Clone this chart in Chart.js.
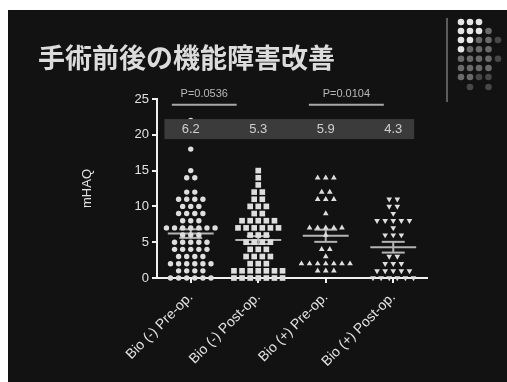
<!DOCTYPE html>
<html>
<head>
<meta charset="utf-8">
<script src="https://cdn.jsdelivr.net/npm/chart.js@4.4.1/dist/chart.umd.min.js"></script>
<style>
  html, body { margin: 0; padding: 0; background: #ffffff; }
  #c { display: block; }
</style>
</head>
<body>
<canvas id="c" width="507" height="382"></canvas>
<script>
// ---- data ----
const slideTitle = '手術前後の機能障害改善';
const categories = ['Bio (-) Pre-op.', 'Bio (-) Post-op.', 'Bio (+) Pre-op.', 'Bio (+) Post-op.'];

// individual mHAQ scores per group
const bioNegPre = [22, 18, 15, 14, 14, 12, 12, 11, 11, 11, 11, 10, 10, 10,
  9, 9, 9, 9, 8, 8, 8, 7, 7, 7, 7, 7, 7, 7, 6, 6, 6, 5, 5, 5, 5, 5,
  4, 4, 4, 4, 4, 3, 3, 3, 3, 2, 2, 2, 2, 2, 2, 1, 1, 1, 1, 0, 0, 0, 0, 0, 0];
const bioNegPost = [15, 14, 13, 12, 12, 11, 11, 10, 10, 10, 9, 9,
  8, 8, 8, 8, 8, 7, 7, 7, 7, 7, 7, 6, 6, 6, 5, 5, 5, 5, 4, 4, 4,
  3, 3, 3, 3, 2, 2, 2, 1, 1, 1, 1, 1, 1, 1, 0, 0, 0, 0, 0, 0, 0];
const bioPosPre = [14, 14, 14, 12, 12, 11, 11, 11, 9, 7, 7, 7, 7, 7, 6,
  4, 4, 3, 2, 2, 2, 2, 2, 2, 2, 1, 1, 1];
const bioPosPost = [11, 11, 10, 10, 9, 8, 8, 8, 8, 8, 7, 6, 6, 6,
  3, 3, 2, 2, 2, 1, 1, 1, 1, 1, 0, 0, 0, 0, 0, 0];

const groupMeans = [6.2, 5.3, 5.9, 4.3];
const groupSem = [0.6, 0.55, 0.85, 0.75];
const pValueLabels = ['P=0.0536', 'P=0.0104'];

// ---- layout constants ----
const SPREAD = 0.12;           // horizontal step between tied points (category units)
const POINT_COLOR = '#dedede';
const TEXT_COLOR = '#e2e2e2';
const FONT = '"Liberation Sans", Arial, sans-serif';

// spread tied values side by side around the category centre
function swarm(values, group) {
  const counts = {}, seen = {};
  values.forEach(v => { counts[v] = (counts[v] || 0) + 1; });
  return values.map(v => {
    seen[v] = (seen[v] === undefined ? 0 : seen[v] + 1);
    return { x: group + (seen[v] - (counts[v] - 1) / 2) * SPREAD, y: v };
  });
}

// slide background, title and corner ornament
const slidePlugin = {
  id: 'slide',
  beforeDraw(chart) {
    const ctx = chart.ctx;
    ctx.save();
    ctx.fillStyle = '#ffffff';
    ctx.fillRect(0, 0, chart.width, chart.height);
    ctx.fillStyle = '#121212';
    ctx.fillRect(8, 10, chart.width - 8, chart.height - 10);

    ctx.fillStyle = '#dcdcdc';
    ctx.font = 'bold 27px "Noto Sans CJK JP", sans-serif';
    ctx.textBaseline = 'middle';
    ctx.textAlign = 'left';
    ctx.fillText(slideTitle, 38, 58);

    // ornament: divider and dot grid
    ctx.strokeStyle = '#5c5c5c';
    ctx.lineWidth = 2;
    ctx.beginPath();
    ctx.moveTo(447, 18);
    ctx.lineTo(447, 102);
    ctx.stroke();
    const W = '#e6e6e6', G = '#6a6a6a', D = '#474747';
    const grid = [
      [W, W, W, null, null],
      [W, W, W, G, null],
      [W, W, G, G, D],
      [W, G, G, G, null],
      [G, G, G, G, D],
      [G, G, G, G, null],
      [G, G, D, D, null],
      [null, D, null, D, null]
    ];
    const cols = [461, 470, 479, 488.5, 498];
    const rows = [22, 31, 40, 49.3, 58.7, 68, 77, 87];
    grid.forEach((row, r) => row.forEach((c, k) => {
      if (!c) return;
      ctx.fillStyle = c;
      ctx.beginPath();
      ctx.arc(cols[k], rows[r], 3.3, 0, Math.PI * 2);
      ctx.fill();
    }));
    ctx.restore();
  }
};

// mean line with SEM whiskers for each group
const meanPlugin = {
  id: 'meanSem',
  beforeDatasetsDraw(chart) {
    const { ctx, scales: { x, y } } = chart;
    ctx.save();
    ctx.strokeStyle = '#b4b4b4';
    ctx.lineWidth = 2;
    groupMeans.forEach((m, i) => {
      const s = groupSem[i];
      const seg = (a, b, v) => {
        ctx.beginPath();
        ctx.moveTo(x.getPixelForValue(i + a), y.getPixelForValue(v));
        ctx.lineTo(x.getPixelForValue(i + b), y.getPixelForValue(v));
        ctx.stroke();
      };
      seg(-0.34, 0.34, m);
      seg(-0.17, 0.17, m + s);
      seg(-0.17, 0.17, m - s);
      ctx.beginPath();
      ctx.moveTo(x.getPixelForValue(i), y.getPixelForValue(m - s));
      ctx.lineTo(x.getPixelForValue(i), y.getPixelForValue(m + s));
      ctx.stroke();
    });
    ctx.restore();
  }
};

// shaded strip with group means and p-value brackets
const annotationPlugin = {
  id: 'annotations',
  afterDatasetsDraw(chart) {
    const { ctx, scales: { x, y } } = chart;
    ctx.save();
    const x0 = x.getPixelForValue(-0.39), x1 = x.getPixelForValue(3.31);
    const yTop = y.getPixelForValue(22.2), yBot = y.getPixelForValue(19.4);
    ctx.fillStyle = '#3b3b3b';
    ctx.fillRect(x0, yTop, x1 - x0, yBot - yTop);

    ctx.fillStyle = '#cfcfcf';
    ctx.font = '13px ' + FONT;
    ctx.textAlign = 'center';
    ctx.textBaseline = 'middle';
    groupMeans.forEach((m, i) => {
      ctx.fillText(m.toFixed(1), x.getPixelForValue(i), (yTop + yBot) / 2);
    });

    const spans = [[-0.28, 0.68], [1.75, 2.86]];
    ctx.strokeStyle = '#a8a8a8';
    ctx.lineWidth = 2;
    ctx.font = '11px ' + FONT;
    ctx.fillStyle = '#b8b8b8';
    spans.forEach(([a, b], k) => {
      const ly = y.getPixelForValue(24.2);
      ctx.beginPath();
      ctx.moveTo(x.getPixelForValue(a), ly);
      ctx.lineTo(x.getPixelForValue(b), ly);
      ctx.stroke();
      ctx.fillText(pValueLabels[k], x.getPixelForValue((a + b) / 2), y.getPixelForValue(25.7));
    });
    ctx.restore();
  }
};

const groups = [bioNegPre, bioNegPost, bioPosPre, bioPosPost];
const styles = [
  { pointStyle: 'circle', pointRadius: 2.7, rotation: 0 },
  { pointStyle: 'rect', pointRadius: 4.0, rotation: 0 },
  { pointStyle: 'triangle', pointRadius: 3.3, rotation: 0 },
  { pointStyle: 'triangle', pointRadius: 3.3, rotation: 180 }
];

const datasets = groups.map((vals, i) => ({
  label: categories[i],
  data: swarm(vals, i),
  pointStyle: styles[i].pointStyle,
  pointRadius: styles[i].pointRadius,
  pointRotation: styles[i].rotation,
  backgroundColor: POINT_COLOR,
  borderWidth: 0,
  pointBorderWidth: 0,
  clip: false
}));

const axisColor = '#f0f0f0';

new Chart(document.getElementById('c'), {
  type: 'scatter',
  data: { datasets },
  options: {
    responsive: false,
    animation: false,
    devicePixelRatio: 1,
    layout: { padding: { left: 70, top: 99, right: 80, bottom: 0 } },
    plugins: { legend: { display: false }, tooltip: { enabled: false } },
    scales: {
      x: {
        type: 'linear',
        min: -0.5,
        max: 3.5,
        afterBuildTicks: s => { s.ticks = categories.map((_, i) => ({ value: i })); },
        afterFit: s => { s.height = 104; },
        ticks: {
          callback: v => categories[v],
          color: TEXT_COLOR,
          font: { size: 14, family: FONT },
          minRotation: 45,
          maxRotation: 45,
          autoSkip: false,
          padding: 6
        },
        grid: { display: true, drawOnChartArea: false, drawTicks: true, tickLength: 5, color: axisColor, lineWidth: 2 },
        border: { display: true, color: axisColor, width: 2 }
      },
      y: {
        min: 0,
        max: 25,
        afterFit: s => { s.width = 87; },
        ticks: { stepSize: 5, color: TEXT_COLOR, font: { size: 13, family: FONT }, padding: 3 },
        title: { display: true, text: 'mHAQ', color: TEXT_COLOR, font: { size: 13, family: FONT }, padding: { top: 10, bottom: 0 } },
        grid: { display: true, drawOnChartArea: false, drawTicks: true, tickLength: 5, color: axisColor, lineWidth: 2 },
        border: { display: true, color: axisColor, width: 2 }
      }
    }
  },
  plugins: [slidePlugin, meanPlugin, annotationPlugin]
});
</script>
</body>
</html>
